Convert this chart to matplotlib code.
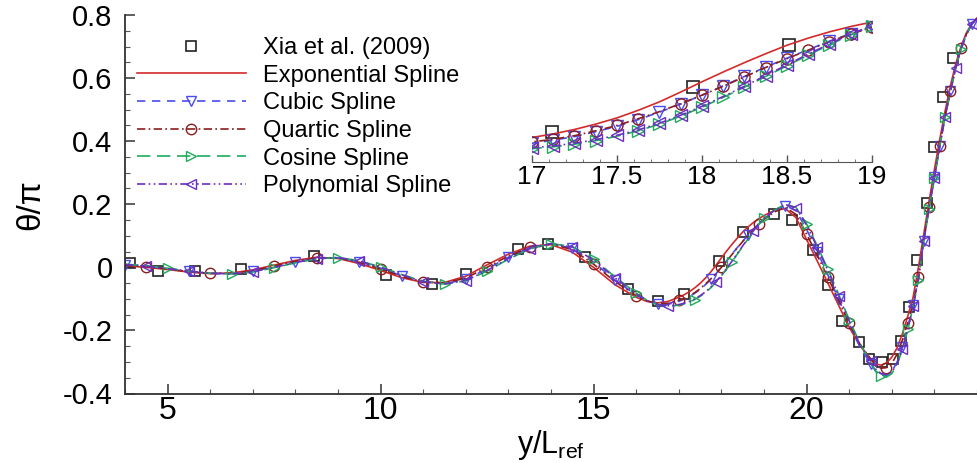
import numpy as np
import matplotlib
matplotlib.use("Agg")
import matplotlib.pyplot as plt

plt.rcParams['font.family'] = ['Liberation Sans', 'DejaVu Sans']
plt.rcParams['mathtext.default'] = 'regular'
plt.rcParams['axes.unicode_minus'] = False

# y/L_ref sample positions shared by all spline curves
y_grid = [4.0, 4.5, 5.0, 5.5, 6.0, 6.5, 7.0, 7.5, 8.0, 8.5, 9.0, 9.5, 10.0,
          10.5, 11.0, 11.5, 12.0, 12.5, 13.0, 13.5, 14.0, 14.5, 15.0, 15.5, 16.0,
          16.25, 16.5, 16.75, 17.0,
          17.125, 17.25, 17.375, 17.5, 17.625, 17.75, 17.875, 18.0,
          18.125, 18.25, 18.375, 18.5, 18.625, 18.75, 18.875, 19.0,
          19.25, 19.5, 19.75, 20.0, 20.25, 20.5, 20.75, 21.0, 21.25, 21.5,
          21.625, 21.75, 21.875, 22.0, 22.125, 22.25, 22.375, 22.5,
          22.625, 22.75, 22.875, 23.0, 23.125, 23.25, 23.375, 23.5,
          23.625, 23.75, 23.875, 24.0]

exp_spline = [0.005, 0.0, -0.007, -0.015, -0.02, -0.018, -0.008, 0.007, 0.022, 0.032, 0.028, 0.012, -0.01,
              -0.033, -0.048, -0.048, -0.028, 0.008, 0.042, 0.067, 0.072, 0.048, 0.0, -0.055, -0.095,
              -0.108, -0.113, -0.108, -0.095,
              -0.087, -0.077, -0.065, -0.051, -0.034, -0.015, 0.007, 0.03,
              0.052, 0.073, 0.093, 0.112, 0.128, 0.142, 0.154, 0.164,
              0.181, 0.186, 0.158, 0.088, 0.02, -0.05, -0.12, -0.19, -0.248, -0.29,
              -0.307, -0.31, -0.303, -0.285, -0.255, -0.21, -0.155, -0.095,
              0.0, 0.105, 0.21, 0.31, 0.405, 0.495, 0.575, 0.645,
              0.7, 0.743, 0.772, 0.79]

cubic_spline = [0.007, 0.003, -0.004, -0.013, -0.019, -0.02, -0.013, 0.002, 0.017, 0.029, 0.03, 0.018, -0.003,
                -0.027, -0.046, -0.052, -0.038, -0.005, 0.032, 0.062, 0.075, 0.06, 0.016, -0.04, -0.088,
                -0.106, -0.117, -0.117, -0.108,
                -0.101, -0.093, -0.082, -0.07, -0.055, -0.038, -0.02, 0.0,
                0.021, 0.042, 0.063, 0.083, 0.102, 0.121, 0.138, 0.153,
                0.18, 0.196, 0.18, 0.12, 0.05, -0.024, -0.1, -0.18, -0.252, -0.305,
                -0.33, -0.342, -0.343, -0.33, -0.3, -0.252, -0.19, -0.12,
                -0.035, 0.085, 0.19, 0.285, 0.385, 0.478, 0.558, 0.633,
                0.693, 0.738, 0.77, 0.79]

quartic_spline = [0.006, 0.002, -0.005, -0.014, -0.019, -0.019, -0.011, 0.004, 0.019, 0.03, 0.029, 0.016, -0.005,
                  -0.029, -0.046, -0.05, -0.034, 0.0, 0.036, 0.064, 0.074, 0.056, 0.01, -0.045, -0.09,
                  -0.106, -0.115, -0.114, -0.105,
                  -0.099, -0.091, -0.08, -0.068, -0.053, -0.037, -0.019, 0.0,
                  0.02, 0.041, 0.062, 0.082, 0.101, 0.12, 0.137, 0.152,
                  0.176, 0.19, 0.168, 0.105, 0.038, -0.032, -0.104, -0.178, -0.243, -0.29,
                  -0.312, -0.32, -0.318, -0.305, -0.275, -0.23, -0.175, -0.115,
                  -0.03, 0.088, 0.19, 0.286, 0.386, 0.479, 0.559, 0.634,
                  0.694, 0.739, 0.77, 0.79]

cosine_spline = [0.01, 0.005, -0.003, -0.012, -0.019, -0.021, -0.015, -0.001, 0.014, 0.027, 0.031, 0.021, 0.001,
                 -0.023, -0.044, -0.053, -0.043, -0.012, 0.026, 0.058, 0.075, 0.066, 0.026, -0.03, -0.082,
                 -0.104, -0.119, -0.124, -0.12,
                 -0.116, -0.11, -0.102, -0.092, -0.08, -0.065, -0.047, -0.027,
                 -0.005, 0.018, 0.042, 0.066, 0.09, 0.113, 0.135, 0.155,
                 0.182, 0.2, 0.19, 0.138, 0.068, -0.006, -0.085, -0.166, -0.24, -0.3,
                 -0.33, -0.345, -0.348, -0.337, -0.308, -0.26, -0.197, -0.125,
                 -0.04, 0.08, 0.186, 0.283, 0.383, 0.476, 0.556, 0.632,
                 0.692, 0.738, 0.77, 0.79]

poly_spline = [0.009, 0.004, -0.004, -0.012, -0.019, -0.021, -0.014, 0.0, 0.015, 0.028, 0.031, 0.02, 0.0,
               -0.024, -0.045, -0.053, -0.042, -0.01, 0.028, 0.059, 0.075, 0.064, 0.023, -0.033, -0.084,
               -0.105, -0.118, -0.122, -0.118,
               -0.114, -0.108, -0.1, -0.09, -0.078, -0.063, -0.045, -0.025,
               -0.003, 0.02, 0.044, 0.068, 0.092, 0.115, 0.137, 0.156,
               0.181, 0.199, 0.189, 0.134, 0.064, -0.01, -0.09, -0.17, -0.244, -0.298,
               -0.323, -0.337, -0.34, -0.332, -0.305, -0.258, -0.195, -0.123,
               -0.038, 0.082, 0.188, 0.284, 0.384, 0.477, 0.557, 0.633,
               0.693, 0.738, 0.77, 0.79]

# Xia et al. (2009) reference data
xia_y = [4.12, 4.78, 5.64, 6.72, 8.44, 10.13, 11.2, 12.0, 13.23, 13.93, 14.8,
         15.8, 16.5, 17.12, 17.95, 18.51, 19.23, 19.65, 20.14, 20.5, 20.82,
         21.24, 21.47, 21.76, 22.02, 22.21, 22.41, 22.6, 22.82, 22.99, 23.21, 23.44]
xia_theta = [0.013, -0.012, -0.012, -0.006, 0.035, -0.025, -0.052, -0.02, 0.059, 0.075, 0.033,
             -0.07, -0.108, -0.083, 0.019, 0.112, 0.168, 0.149, 0.054, -0.057, -0.17,
             -0.237, -0.29, -0.30, -0.29, -0.232, -0.126, 0.024, 0.204, 0.382, 0.541, 0.663]

labels = ['Xia et al. (2009)', 'Exponential Spline', 'Cubic Spline',
          'Quartic Spline', 'Cosine Spline', 'Polynomial Spline']

styles = [
    # series, color, linestyle, marker, markevery offset
    (exp_spline, '#d42a2a', '-', None, 0.0),
    (cubic_spline, '#4c4cee', (0, (5, 4)), 'v', 0.01),
    (quartic_spline, '#8a1e1e', (0, (5, 2, 1, 2)), 'o', 0.03),
    (cosine_spline, '#1faa5c', (0, (8, 4)), '>', 0.045),
    (poly_spline, '#6b2ec2', (0, (5, 2, 1, 2, 1, 2)), '<', 0.02),
]


def draw(ax, step, ms):
    h = []
    h.append(ax.plot(xia_y, xia_theta, ls='none', marker='s', mfc='none', mec='#222222',
                     ms=ms, mew=1.2, label=labels[0])[0])
    for (vals, col, ls, mk, off), lab in zip(styles, labels[1:]):
        kw = {}
        if mk is not None:
            kw = dict(marker=mk, mfc='none', mec=col, ms=ms, mew=1.0,
                      markevery=(off, step))
        h.append(ax.plot(y_grid, vals, color=col, ls=ls, lw=1.2, label=lab, **kw)[0])
    return h


fig = plt.figure(figsize=(9.77, 4.63), dpi=100)
ax = fig.add_axes([125/977, 1 - 393.5/463, 852/977, 378.5/463])
handles = draw(ax, 0.06, 7.5)

ax.set_xlim(4, 24)
ax.set_ylim(-0.4, 0.8)
ax.set_xticks([5, 10, 15, 20])
ax.set_xticks(np.arange(4, 25, 1), minor=True)
ax.set_yticks([-0.4, -0.2, 0, 0.2, 0.4, 0.6, 0.8])
ax.set_yticklabels(['-0.4', '-0.2', '0', '0.2', '0.4', '0.6', '0.8'])
ax.set_yticks(np.arange(-0.4, 0.801, 0.05), minor=True)
ax.spines['top'].set_visible(False)
ax.spines['right'].set_visible(False)
for s in ['left', 'bottom']:
    ax.spines[s].set_linewidth(1.3)
    ax.spines[s].set_color('#333333')
ax.tick_params(which='major', direction='in', length=7, width=1.1, color='#333333')
ax.tick_params(which='minor', direction='in', length=3.5, width=0.8, color='#555555')
ax.tick_params(axis='x', labelsize=23, pad=2)
ax.tick_params(axis='y', labelsize=21, pad=9)
ax.set_xlabel('y/L$_{ref}$', fontsize=22, labelpad=1)
ax.set_ylabel('θ/π', fontsize=24, labelpad=12)

ax.legend(handles=handles, loc='upper left', bbox_to_anchor=(137/977, 1 - 37/463),
          bbox_transform=fig.transFigure, frameon=False, fontsize=17,
          handlelength=4.6, handletextpad=0.75, labelspacing=0.24,
          borderpad=0, borderaxespad=0, numpoints=1)

# zoomed inset
axin = fig.add_axes([532/977, 1 - 162/463, 340/977, 156/463])
axin.set_facecolor('none')
draw(axin, 0.065, 8)
axin.set_xlim(17, 19)
axin.set_ylim(-0.15, 0.2)
axin.set_xticks([17, 17.5, 18, 18.5, 19])
axin.set_xticklabels(['17', '17.5', '18', '18.5', '19'])
axin.set_xticks(np.arange(17, 19.01, 0.1), minor=True)
axin.set_yticks([])
for s in ['top', 'right', 'left']:
    axin.spines[s].set_visible(False)
axin.spines['bottom'].set_color('#555555')
axin.tick_params(which='major', direction='in', length=5, width=1.0, color='#555555',
                 labelsize=19, pad=2)
axin.tick_params(which='minor', direction='in', length=2.5, width=0.7, color='#777777')

fig.savefig('out.png', dpi=100)
